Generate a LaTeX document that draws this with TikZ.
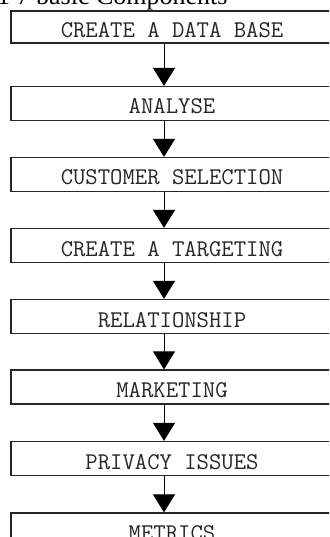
\documentclass[tikz,border=0pt]{standalone}
\usepackage{fontspec}
\newfontfamily\titlefont{Liberation Serif}
\usetikzlibrary{arrows.meta}

\begin{document}
\begin{tikzpicture}[x=1pt, y=-1pt,
    stage/.style={draw=black!85, line width=1.2pt, minimum width=322pt, minimum height=34pt, inner sep=0pt,
      text height=21pt, text depth=0pt, text=black!85, font=\ttfamily\fontsize{24}{24}\selectfont},
    flow/.style={line width=1pt, draw=black, -{Triangle[width=22pt, length=18pt]}}]
            \useasboundingbox (0,0) rectangle (329,537);
            \clip (0,0) rectangle (329,537);
            \node[anchor=base west, inner sep=0pt, font=\titlefont\fontsize{26}{26}\selectfont] (title) at (-3,5) {1 7 basic Components};
            \node[stage, minimum height=32pt] (base) at (172,27) {CREATE A DATA BASE};
            \node[stage] (analyse) at (172,103.5) {ANALYSE};
            \node[stage] (select) at (172,174.5) {CUSTOMER SELECTION};
            \node[stage] (target) at (172,245.5) {CREATE A TARGETING};
            \node[stage] (relation) at (172,316.5) {RELATIONSHIP};
            \node[stage] (market) at (172,387) {MARKETING};
            \node[stage] (privacy) at (172,458.5) {PRIVACY ISSUES};
            \node[stage] (metrics) at (172,530) {METRICS};
            \draw[flow] ([xshift=-8pt]base.south) -- ([xshift=-8pt]analyse.north);
            \draw[flow] ([xshift=-8pt]analyse.south) -- ([xshift=-8pt]select.north);
            \draw[flow] ([xshift=-8pt]select.south) -- ([xshift=-8pt]target.north);
            \draw[flow] ([xshift=-8pt]target.south) -- ([xshift=-8pt]relation.north);
            \draw[flow] ([xshift=-8pt]relation.south) -- ([xshift=-8pt]market.north);
            \draw[flow] ([xshift=-8pt]market.south) -- ([xshift=-8pt]privacy.north);
            \draw[flow] ([xshift=-8pt]privacy.south) -- ([xshift=-8pt]metrics.north);
        \end{tikzpicture}
\end{document}
